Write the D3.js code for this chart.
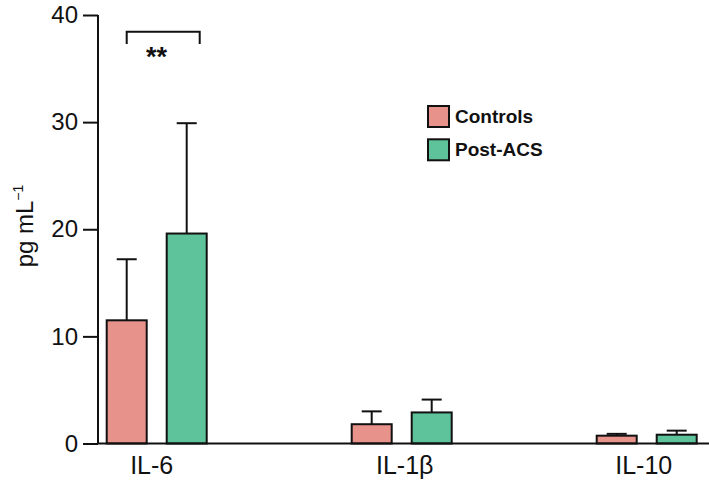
<!DOCTYPE html>
<html><head><meta charset="utf-8">
<script src="https://cdn.jsdelivr.net/npm/d3@7"></script>
<style>body{margin:0;background:#fff;}svg{display:block;font-family:Arial,"Liberation Sans",sans-serif;}</style>
</head><body>
<svg id="c" width="709" height="484"></svg>
<script>
const categories = ["IL-6", "IL-1β", "IL-10"];
const seriesNames = ["Controls", "Post-ACS"];
const controlsMean = [11.5, 1.8, 0.73];
const controlsErr = [17.2, 3.0, 0.9];
const postMean = [19.6, 2.9, 0.82];
const postErr = [29.9, 4.1, 1.2];
const yTicks = [0, 10, 20, 30, 40];
const colors = ["#E8928C", "#5EC29A"];

const svg = d3.select("#c");
const y = d3.scaleLinear().domain([0, 40]).range([443.5, 15]);
const groupStart = d3.scalePoint().domain(categories).range([106.7, 596.7]);
const barW = 40, gap = 20;
const bx = (cat, j) => groupStart(cat) + j * (barW + gap);

const data = categories.map((c, i) => ({
  cat: c,
  vals: [
    {s: seriesNames[0], m: controlsMean[i], e: controlsErr[i], col: colors[0]},
    {s: seriesNames[1], m: postMean[i], e: postErr[i], col: colors[1]}
  ]
}));

const g = svg.append("g");
data.forEach(d => {
  d.vals.forEach((v, j) => {
    const xc = bx(d.cat, j) + barW/2;
    g.append("line").attr("x1", xc).attr("x2", xc).attr("y1", y(v.m)).attr("y2", y(v.e))
      .attr("stroke", "#111").attr("stroke-width", 2);
    g.append("line").attr("x1", xc - 10).attr("x2", xc + 10).attr("y1", y(v.e)).attr("y2", y(v.e))
      .attr("stroke", "#111").attr("stroke-width", 2);
    g.append("rect").attr("x", bx(d.cat, j)).attr("width", barW)
      .attr("y", y(v.m)).attr("height", y(0) - y(v.m))
      .attr("fill", v.col).attr("stroke", "#111").attr("stroke-width", 2);
  });
});

// y axis
const yAxis = d3.axisLeft(y).tickValues(yTicks).tickSize(15).tickPadding(5).tickFormat(d3.format("d"));
const ya = svg.append("g").attr("transform", "translate(98,0)").call(yAxis);
ya.attr("font-size", 24).attr("font-family", "Arial, 'Liberation Sans', sans-serif");
ya.select(".domain").attr("stroke", "#111").attr("stroke-width", 2).attr("d", `M0,${y(40)}V${y(0)}`);
ya.selectAll(".tick line").attr("stroke", "#111").attr("stroke-width", 2);
ya.selectAll(".tick text").attr("font-size", 24).attr("fill", "#111");

// x axis line
svg.append("line").attr("x1", 97).attr("x2", 709).attr("y1", y(0)).attr("y2", y(0))
  .attr("stroke", "#111").attr("stroke-width", 2);

// x labels
const labelShift = [-5, 3, -3];
categories.forEach((c, i) => {
  svg.append("text").attr("x", groupStart(c) + (2*barW + gap)/2 + labelShift[i]).attr("y", 474)
    .attr("text-anchor", "middle").attr("font-size", 25).attr("fill", "#111").text(c);
});

// y label
svg.append("text").attr("transform", `translate(33,226) rotate(-90)`)
  .attr("text-anchor", "middle").attr("font-size", 24).attr("fill", "#111")
  .html('pg mL<tspan dy="-10" font-size="14">−1</tspan>');

// significance bracket
const bl = bx("IL-6", 0) + barW/2, br = bx("IL-6", 1) + barW/2 + 13;
svg.append("path").attr("d", `M${bl},44V31.7H${br}V44`).attr("fill", "none")
  .attr("stroke", "#111").attr("stroke-width", 2);
svg.append("text").attr("x", 156.5).attr("y", 66).attr("text-anchor", "middle")
  .attr("font-size", 27).attr("font-weight", "bold").attr("fill", "#111").text("**");

// legend
seriesNames.forEach((s, i) => {
  const ly = 106 + i * 33.3;
  svg.append("rect").attr("x", 428).attr("y", ly).attr("width", 21).attr("height", 21)
    .attr("fill", colors[i]).attr("stroke", "#111").attr("stroke-width", 2);
  svg.append("text").attr("x", 455).attr("y", ly + 17).attr("font-size", 19)
    .attr("font-weight", "bold").attr("fill", "#111").text(s);
});
</script>
</body></html>
